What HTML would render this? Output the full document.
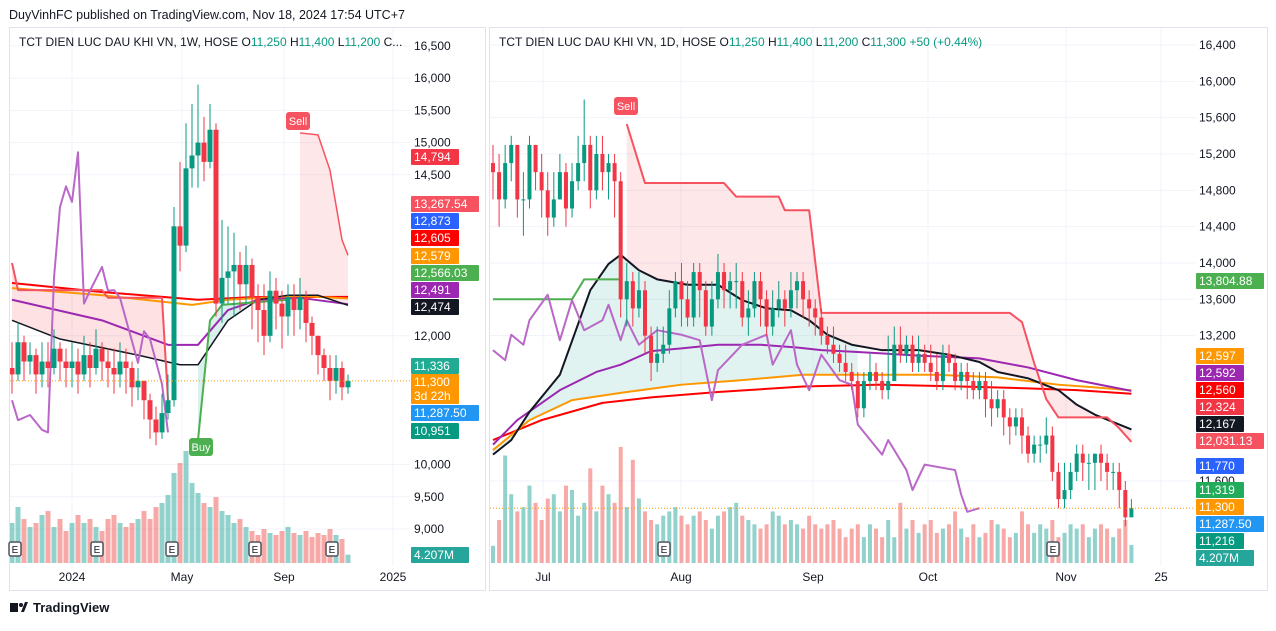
<!DOCTYPE html>
<html><head><meta charset="utf-8">
<style>
html,body{margin:0;padding:0;background:#fff;}
body{width:1276px;height:626px;overflow:hidden;font-family:"Liberation Sans",sans-serif;}
svg text{font-family:"Liberation Sans",sans-serif;}
</style></head>
<body>
<svg id="root" width="1276" height="626" viewBox="0 0 1276 626" xmlns="http://www.w3.org/2000/svg">
  <rect x="0" y="0" width="1276" height="626" fill="#ffffff"/>
  <text x="9" y="19" font-size="12.5" fill="#131722">DuyVinhFC published on TradingView.com, Nov 18, 2024 17:54 UTC+7</text>
  <rect x="9.5" y="27.5" width="476" height="563" fill="none" stroke="#e0e3eb"/>
  <rect x="489.5" y="27.5" width="778" height="563" fill="none" stroke="#e0e3eb"/>
  <g id="left"></g>
  <g id="right"></g>
  <g>
    <rect x="10" y="603" width="8" height="9" fill="#131722"/>
    <circle cx="21" cy="605" r="2" fill="#131722"/>
    <polygon points="21,612 25,602 28,602 24,612" fill="#131722"/>
    <text x="33" y="612" font-size="13" font-weight="bold" fill="#131722">TradingView</text>
  </g>
</svg>
<script>
// ---------- weekly (left) data ----------
const closesL=[11400,11900,11600,11700,11400,11600,11500,11800,11600,11500,11600,11400,11700,11500,11800,11600,11500,11400,11600,11500,11200,11300,11000,10700,10500,10800,11000,13700,13400,14600,14800,15000,14700,15200,12500,12900,13000,13100,12800,13100,12600,12400,12000,12700,12500,12300,12600,12400,12600,12200,12000,11700,11500,11300,11500,11200,11300];
const highsL=[11900,12200,12000,11900,11800,11900,11900,12100,11900,11800,11900,11800,12000,11900,12100,11900,11800,11800,11900,11800,11600,11500,11300,11100,10900,11100,11400,14000,14700,15300,15600,15900,15400,15600,15300,13800,13700,13600,13300,13400,13200,12800,12800,13000,12900,12700,12800,12800,12900,12700,12300,12000,11800,11700,11700,11600,11400];
const lowsL=[11100,11300,11300,11400,11100,11200,11200,11400,11300,11200,11200,11100,11300,11200,11400,11300,11200,11100,11200,11100,10900,11000,10700,10400,10300,10400,10700,10900,13000,13300,14300,14300,14400,14600,12300,12200,12500,12300,12400,12500,12100,11900,11700,11900,12100,11800,12000,12000,12100,11900,11700,11400,11300,11000,11100,11000,11100];
const volumesL=[20,28,22,18,20,24,26,18,22,16,20,24,20,22,18,16,22,24,20,18,20,22,26,22,28,30,34,45,50,56,40,35,30,28,33,26,24,20,22,18,16,14,17,15,14,16,18,15,14,16,13,15,14,17,14,12,4.2];
const maBlackL=[[0,12240],[8,11950],[21,11700],[28,11550],[31,11550],[36,12240],[41,12560],[46,12630],[51,12630],[56,12474]];
const maPurpleL=[[0,12560],[15,12240],[26,11860],[31,11860],[36,12400],[41,12560],[48,12590],[56,12491]];
const maOrangeL=[[0,12740],[15,12630],[30,12480],[36,12560],[48,12620],[56,12579]];
const maRedL=[[0,12820],[15,12680],[31,12560],[40,12600],[56,12605]];
const stRedL1=[[0,13130],[1,12710],[15,12710],[16,12590],[25,12590],[26,11000]];
const stGreenL=[[31,10380],[33,12240],[35,12480],[46,12560]];
const stRedL2=[[48,15150],[51,15120],[53,14570],[55,13490],[56,13250]];
const oscL=[[0,11000],[1,10690],[3,10770],[5,10540],[6,10500],[7,12900],[8,14000],[9,14320],[10,14080],[11,14850],[12,12500],[13,12700],[15,13070],[16,12700],[17,12710],[18,12590],[21,11580],[22,12070],[23,11950],[25,11250],[26,10500]];
const ticksL=[16500,16000,15500,15000,14500,12000,10000,9500,9000];
const timeL=[["2024",72],["May",182],["Sep",284],["2025",393]];

// ---------- daily (right) data ----------
const closesR=[15000,14700,15100,15300,14700,14700,15300,15000,14800,14500,14700,15000,14600,14900,15100,15300,14800,15200,15000,15100,14900,13600,13800,13500,13700,13200,12900,13000,13100,13500,13800,13600,13400,13900,13700,13300,13600,13900,13700,13800,13800,13400,13500,13800,13600,13300,13500,13600,13500,13700,13800,13600,13500,13400,13200,13100,13000,12900,12800,12700,12400,12700,12800,12700,12600,12700,13100,13000,13100,12900,13000,12900,12800,12700,13000,12900,12700,12800,12700,12600,12700,12500,12400,12500,12300,12200,12300,12100,11900,12000,12000,12100,11700,11400,11500,11700,11900,11800,11800,11900,11800,11700,11700,11500,11200,11300];
const highsR=[15300,15200,15300,15400,15300,15000,15400,15300,15200,15000,15000,15200,15100,15100,15400,15800,15400,15400,15400,15200,15200,15000,14000,13900,13900,13800,13300,13300,13300,13700,13900,14000,13800,14000,14000,13800,13800,14100,14000,13900,14000,13900,13700,13900,13900,13700,13700,13800,13700,13900,13900,13900,13700,13600,13500,13300,13300,13100,13100,12900,12800,12800,13000,12900,12800,13200,13300,13300,13200,13200,13200,13100,13100,13000,13100,13100,13000,12900,12900,12800,12800,12800,12700,12600,12600,12400,12400,12400,12200,12100,12100,12300,12200,11800,11800,11800,12000,12000,11900,11900,12000,11900,11800,11800,11600,11400];
const lowsR=[14700,14400,14600,14900,14500,14300,14600,14800,14500,14300,14400,14700,14400,14500,14800,14900,14600,14700,14800,14700,14500,13400,13300,13300,13400,13000,12700,12800,12900,13000,13400,13300,13300,13300,13400,13200,13200,13500,13500,13500,13500,13300,13200,13400,13300,13200,13200,13400,13300,13400,13500,13400,13300,13200,13100,13000,12900,12800,12700,12600,12300,12300,12600,12600,12500,12500,12900,12900,12900,12800,12800,12800,12700,12600,12600,12800,12600,12600,12500,12500,12500,12300,12200,12300,12100,12000,12100,11900,11800,11800,11800,11900,11600,11300,11300,11400,11600,11600,11500,11500,11600,11500,11500,11300,11100,11200];
const volumesR=[4,10,25,16,12,13,18,14,10,15,16,12,18,17,11,14,22,12,18,16,14,27,13,24,15,12,10,9,11,12,13,11,9,11,12,10,8,11,12,13,14,11,10,9,8,9,12,11,9,10,9,8,11,9,8,9,10,8,6,8,9,6,9,8,6,10,6,14,8,10,7,9,10,7,8,9,12,8,6,9,6,7,10,9,8,6,7,12,9,7,9,8,10,6,7,9,8,9,6,8,9,8,6,8,10,4.2];
const maBlackR=[[0,11890],[3,12050],[6,12360],[11,12770],[16,13700],[19,13990],[21,14090],[24,13920],[27,13820],[32,13760],[37,13760],[41,13590],[45,13500],[49,13480],[52,13370],[55,13210],[59,13100],[64,13040],[70,13040],[75,12990],[80,12910],[83,12800],[88,12730],[93,12600],[96,12440],[99,12330],[105,12167]];
const maPurpleR=[[0,12000],[4,12270],[11,12600],[17,12800],[21,12880],[26,13030],[31,13060],[37,13100],[44,13100],[50,13070],[54,13040],[60,13020],[70,12980],[80,12950],[88,12850],[96,12710],[105,12592]];
const maOrangeR=[[0,11940],[6,12270],[13,12490],[21,12570],[31,12660],[41,12710],[51,12770],[60,12770],[73,12770],[83,12740],[93,12660],[99,12630],[105,12597]];
const maRedR=[[0,12050],[8,12270],[18,12460],[26,12520],[37,12580],[51,12640],[64,12660],[77,12640],[88,12620],[96,12600],[105,12560]];
const stRedR=[[22,15530],[25,14880],[38,14880],[40,14730],[47,14730],[48,14580],[52,14580],[54,13450],[85,13450],[87,13350],[89,12900],[91,12500],[93,12300],[101,12300],[103,12180],[105,12030]];
const stGreenR=[[0,13600],[13,13600],[15,13820],[21,13820]];
const oscR=[[0,13040],[2,12930],[3,13210],[5,13100],[6,13370],[9,13650],[11,13150],[13,13590],[15,13260],[18,13370],[19,13540],[21,13150],[22,13370],[24,13100],[27,13260],[31,13210],[34,13150],[36,12490],[37,12820],[41,13100],[45,13210],[46,12880],[49,13260],[50,12880],[52,12600],[54,12990],[57,12710],[59,12660],[60,12220],[64,11890],[65,12050],[68,11720],[69,11500],[71,11780],[76,11720],[77,11450],[78,11260],[80,11300]];
const ticksR=[16400,16000,15600,15200,14800,14400,14000,13600,13200,11600];
const timeR=[["Jul",543],["Aug",681],["Sep",813],["Oct",928],["Nov",1066],["25",1161]];

const NS='http://www.w3.org/2000/svg';
function mk(parent,tag,attrs){const e=document.createElementNS(NS,tag);for(const k in attrs)e.setAttribute(k,attrs[k]);parent.appendChild(e);return e;}

function interp(pairs,i){
  if(i<=pairs[0][0])return pairs[0][1];
  for(let k=1;k<pairs.length;k++){if(i<=pairs[k][0]){const a=pairs[k-1],b=pairs[k];return a[1]+(b[1]-a[1])*(i-a[0])/(b[0]-a[0]);}}
  return pairs[pairs.length-1][1];
}

function buildPanel(cfg){
  const g=document.getElementById(cfg.id);
  const {x,y,px0,px1,py0,py1,ax}=cfg;
  const clipId=cfg.id+'-clip';
  const defs=mk(g,'defs',{});
  const cp=mk(defs,'clipPath',{id:clipId});
  mk(cp,'rect',{x:px0,y:py0,width:px1-px0,height:py1-py0});
  cfg.ticks.forEach(t=>{
    const gl=mk(g,'line',{x1:px0,x2:px1,y1:y(t),y2:y(t),stroke:'#f0f3fa'});
    
    
  });
  cfg.time.forEach(tm=>{
    const gl=mk(g,'line',{x1:tm[1],x2:tm[1],y1:py0,y2:py1,stroke:'#f0f3fa'});
    
    
  });
  const plot=mk(g,'g',{'clip-path':'url(#'+clipId+')'});
  function fillBetween(a,b,i0,i1,color,name){
    let pts=[];
    for(let i=i0;i<=i1;i++)pts.push(x(i)+','+y(interp(a,i)));
    for(let i=i1;i>=i0;i--)pts.push(x(i)+','+y(interp(b,i)));
    const p=mk(plot,'polygon',{points:pts.join(' '),fill:color});
    
    
  }
  cfg.fills.forEach(f=>fillBetween(f[0],f[1],f[2],f[3],f[4],f[5]));
  const n=cfg.closes.length;
  for(let i=0;i<n;i++){
    const o=i?cfg.closes[i-1]:cfg.closes[i]-100;
    const up=cfg.closes[i]>=o;
    const h=(cfg.volumes[i]||0)*cfg.vscale;
    const r=mk(plot,'rect',{x:x(i)-cfg.bw/2,y:cfg.vbase-h,width:cfg.bw,height:h,fill:up?'rgba(38,166,154,0.5)':'rgba(239,83,80,0.5)'});
    
    
  }
  function line(pairs,color,w,name){
    const pts=pairs.map(p=>x(p[0])+','+y(p[1])).join(' ');
    const l=mk(plot,'polyline',{points:pts,fill:'none',stroke:color,'stroke-width':w,'stroke-linejoin':'round'});
    
    
  }
  cfg.lines.forEach(l=>line(l[0],l[1],l[2],l[3]));
  for(let i=0;i<n;i++){
    const c=cfg.closes[i];
    const o=i?cfg.closes[i-1]:c+100;
    const hi=Math.max(cfg.highs[i]||c,o,c), lo=Math.min(cfg.lows[i]||c,o,c);
    const col=c>=o?'#089981':'#f23645';
    const w=mk(plot,'line',{x1:x(i),x2:x(i),y1:y(hi),y2:y(lo),stroke:col,'stroke-width':1});
    
    
    const top=y(Math.max(o,c)),bh=Math.max(1,y(Math.min(o,c))-top);
    const b=mk(plot,'rect',{x:x(i)-cfg.bw/2,y:top,width:cfg.bw,height:bh,fill:col});
    
    
  }
  const last=cfg.closes[n-1];
  const dl=mk(plot,'line',{x1:px0,x2:px1,y1:y(last),y2:y(last),stroke:'#ff9800','stroke-dasharray':'1,2'});
  
  
  cfg.ticks.forEach(t=>{
    const tx=mk(g,'text',{x:ax+4,y:y(t)+4,'font-size':12,fill:'#131722'});
    tx.textContent=t.toLocaleString('en-US');
    
    
  });
  cfg.time.forEach(tm=>{
    const tx=mk(g,'text',{x:tm[1],y:py1+15,'font-size':12,fill:'#131722','text-anchor':'middle'});
    tx.textContent=tm[0];
    
    
  });
  cfg.badges.forEach(bd=>{
    const [txt,cy,bg,w,h]=bd;
    const hh=h||16;
    const r=mk(g,'rect',{x:ax+1,y:cy-hh/2,width:w,height:hh,fill:bg,rx:1});
    
    
    const lines=txt.split('|');
    lines.forEach((ln,k)=>{
      const t=mk(g,'text',{x:ax+4,y:cy+4-(lines.length-1)*7+k*14,'font-size':12,fill:'#fff'});
      t.textContent=ln;
      
      
    });
  });
  cfg.earn.forEach(ex=>{
    const r=mk(g,'rect',{x:ex-6,y:py1-24,width:12,height:14,fill:'#fff',stroke:'#50535e','stroke-width':1.5,rx:2});
    
    
    const t=mk(g,'text',{x:ex,y:py1-13,'font-size':10,fill:'#131722','text-anchor':'middle'});
    t.textContent='E';
    
    
  });
  cfg.flags.forEach(f=>{
    const [txt,cx,cy,bg]=f;
    const r=mk(g,'rect',{x:cx-12,y:cy-9,width:24,height:18,fill:bg,rx:3});
    
    
    const t=mk(g,'text',{x:cx,y:cy+4,'font-size':11,fill:'#fff','text-anchor':'middle'});
    t.textContent=txt;
    
    
  });
  const tt=mk(g,'text',{x:px0+9,y:py0+18,'font-size':12,fill:'#131722'});
  
  
  tt.innerHTML=cfg.title;
}

const xL=i=>12+i*6, yL=p=>46+(16500-p)/500*32.2;
const xR=i=>493+i*6.08, yR=p=>45+(16400-p)/400*36.33;
const G='#089981';
buildPanel({id:'left',x:xL,y:yL,px0:10,px1:410,py0:28,py1:566,ax:410,
  ticks:ticksL,time:timeL,closes:closesL,highs:highsL,lows:lowsL,volumes:volumesL,vscale:2,vbase:563,bw:5,
  fills:[[stRedL1,maBlackL,0,26,'rgba(242,54,69,0.15)','bear-fill'],[maBlackL,stGreenL,31,46,'rgba(8,153,129,0.15)','bull-fill'],[stRedL2,maBlackL,48,56,'rgba(242,54,69,0.12)','bear-fill']],
  lines:[[maRedL,'#ff0000',2,'ma-red'],[maOrangeL,'#ff9800',2,'ma-orange'],[maPurpleL,'#9c27b0',2,'ma-purple'],[maBlackL,'#131722',1.5,'ma-black'],[stRedL1,'#f7525f',2,'supertrend-down'],[stGreenL,'#4caf50',2,'supertrend-up'],[stRedL2,'#f7525f',1.5,'supertrend-down'],[oscL,'#ba68c8',2,'oscillator-line']],
  badges:[['14,794',157,'#f23645',48],['13,267.54',204,'#f7525f',68],['12,873',221,'#2962ff',48],['12,605',238,'#ff0000',48],['12,579',256,'#ff9800',48],['12,566.03',273,'#4caf50',68],['12,491',290,'#9c27b0',48],['12,474',307,'#131722',48],['11,336',366,'#22ab94',48],['11,300|3d 22h',389,'#ff9800',48,30],['11,287.50',413,'#2196f3',68],['10,951',431,'#089981',48],['4.207M',555,'#26a69a',58]],
  earn:[15,97,172,255,332],
  flags:[['Sell',298,121,'#f7525f'],['Buy',201,447,'#4caf50']],
  title:'TCT DIEN LUC DAU KHI VN, 1W, HOSE  O<tspan fill="'+G+'">11,250</tspan>  H<tspan fill="'+G+'">11,400</tspan>  L<tspan fill="'+G+'">11,200</tspan>  C...'
});
buildPanel({id:'right',x:xR,y:yR,px0:490,px1:1195,py0:28,py1:566,ax:1195,
  ticks:ticksR,time:timeR,closes:closesR,highs:highsR,lows:lowsR,volumes:volumesR,vscale:4.3,vbase:563,bw:4,
  fills:[[maBlackR,maOrangeR,0,60,'rgba(8,153,129,0.12)','bull-fill'],[stRedR,maBlackR,22,105,'rgba(242,54,69,0.12)','bear-fill']],
  lines:[[maRedR,'#ff0000',2,'ma-red'],[maOrangeR,'#ff9800',2,'ma-orange'],[maPurpleR,'#9c27b0',2,'ma-purple'],[maBlackR,'#131722',2,'ma-black'],[stRedR,'#f7525f',2,'supertrend-down'],[stGreenR,'#4caf50',2,'supertrend-up'],[oscR,'#ba68c8',2,'oscillator-line']],
  badges:[['13,804.88',281,'#4caf50',68],['12,597',356,'#ff9800',48],['12,592',373,'#9c27b0',48],['12,560',390,'#ff0000',48],['12,324',407,'#f23645',48],['12,167',424,'#131722',48],['12,031.13',441,'#f7525f',68],['11,770',466,'#2962ff',48],['11,319',490,'#22ab5b',48],['11,300',507,'#ff9800',48],['11,287.50',524,'#2196f3',68],['11,216',541,'#089981',48],['4.207M',558,'#26a69a',58]],
  earn:[664,1053],
  flags:[['Sell',626,106,'#f7525f']],
  title:'TCT DIEN LUC DAU KHI VN, 1D, HOSE  O<tspan fill="'+G+'">11,250</tspan>  H<tspan fill="'+G+'">11,400</tspan>  L<tspan fill="'+G+'">11,200</tspan>  C<tspan fill="'+G+'">11,300</tspan>  <tspan fill="'+G+'">+50 (+0.44%)</tspan>'
});
</script>
</body></html>
